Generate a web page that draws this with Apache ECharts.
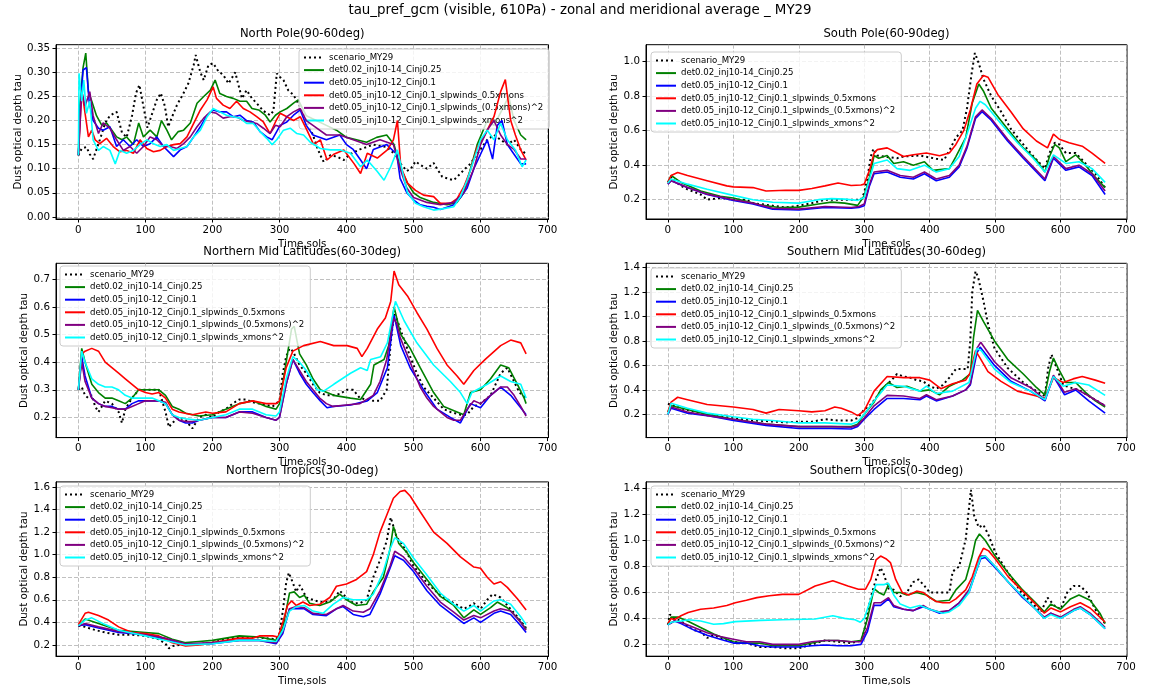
<!DOCTYPE html>
<html><head><meta charset="utf-8">
<script src="https://cdn.jsdelivr.net/npm/echarts@6/dist/echarts.min.js"></script>
<style>html,body{margin:0;padding:0;background:#fff}#c{width:1160px;height:691px}</style>
</head><body><div id="c"></div>
<script>
// ---------- names ----------
const seriesNames = ['scenario_MY29','det0.02_inj10-14_Cinj0.25','det0.05_inj10-12_Cinj0.1',
  'det0.05_inj10-12_Cinj0.1_slpwinds_0.5xmons','det0.05_inj10-12_Cinj0.1_slpwinds_(0.5xmons)^2',
  'det0.05_inj10-12_Cinj0.1_slpwinds_xmons^2'];
const panelTitles = ['North Pole(90-60deg)','South Pole(60-90deg)','Northern Mid Latitudes(60-30deg)',
  'Southern Mid Latitudes(30-60deg)','Northern Tropics(30-0deg)','Southern Tropics(0-30deg)'];
const mainTitle = 'tau_pref_gcm (visible, 610Pa) - zonal and meridional average _ MY29';
const xTicks = [0,100,200,300,400,500,600,700];
const yTicksNP = [0,0.05,0.1,0.15,0.2,0.25,0.3,0.35];
const yTicksSP = [0.2,0.4,0.6,0.8,1.0];
const yTicksNML = [0.2,0.3,0.4,0.5,0.6,0.7];
const yTicksSML = [0.2,0.4,0.6,0.8,1.0,1.2,1.4];
const yTicksNT = [0.2,0.4,0.6,0.8,1.0,1.2,1.4,1.6];
const yTicksST = [0.2,0.4,0.6,0.8,1.0,1.2,1.4];

// ---------- North Pole ----------
const np_scenario = [[0,0.128],[5,0.142],[12,0.145],[17,0.13],[22,0.12],[27,0.14],[32,0.16],[40,0.195],[47,0.21],[57,0.218],[65,0.175],[72,0.165],[80,0.21],[86,0.257],[91,0.274],[97,0.23],[103,0.185],[109,0.21],[117,0.243],[123,0.257],[129,0.23],[134,0.187],[139,0.205],[147,0.232],[157,0.257],[164,0.277],[172,0.315],[175,0.336],[182,0.3],[187,0.284],[194,0.315],[201,0.319],[209,0.302],[216,0.295],[224,0.277],[234,0.3],[244,0.246],[251,0.263],[259,0.246],[266,0.236],[276,0.22],[286,0.211],[291,0.22],[296,0.298],[301,0.29],[306,0.284],[313,0.263],[321,0.253],[331,0.228],[340,0.2],[350,0.17],[356,0.145],[361,0.128],[366,0.114],[376,0.128],[386,0.125],[396,0.118],[405,0.13],[420,0.14],[440,0.15],[460,0.145],[472,0.13],[481,0.11],[490,0.095],[496,0.1],[503,0.115],[510,0.108],[520,0.1],[530,0.112],[535,0.1],[543,0.083],[550,0.08],[560,0.076],[570,0.09],[580,0.104],[585,0.11],[592,0.125],[600,0.14],[610,0.16],[620,0.17],[630,0.16],[640,0.15],[650,0.16],[660,0.14],[668,0.13]];
const np_det002 = [[0,0.128],[2,0.23],[7,0.31],[11,0.34],[15,0.26],[20,0.24],[27,0.21],[35,0.19],[42,0.195],[50,0.18],[57,0.166],[65,0.16],[72,0.166],[82,0.15],[90,0.195],[97,0.166],[107,0.18],[117,0.166],[124,0.2],[132,0.18],[139,0.16],[149,0.177],[157,0.18],[167,0.195],[177,0.236],[187,0.25],[197,0.263],[204,0.284],[211,0.256],[221,0.25],[231,0.246],[241,0.24],[251,0.24],[259,0.225],[269,0.222],[279,0.211],[286,0.197],[294,0.211],[301,0.218],[311,0.225],[321,0.236],[328,0.243],[340,0.21],[355,0.2],[370,0.19],[385,0.18],[400,0.165],[415,0.16],[430,0.155],[445,0.165],[460,0.17],[471,0.15],[481,0.1],[491,0.07],[500,0.05],[510,0.04],[530,0.03],[550,0.025],[565,0.03],[575,0.05],[585,0.1],[595,0.15],[610,0.2],[620,0.19],[635,0.23],[642,0.25],[650,0.2],[660,0.17],[668,0.16]];
const np_det005 = [[0,0.128],[3,0.23],[7,0.305],[12,0.31],[16,0.24],[22,0.2],[30,0.184],[37,0.18],[47,0.187],[57,0.146],[67,0.16],[77,0.146],[87,0.16],[97,0.146],[107,0.152],[117,0.166],[127,0.146],[142,0.125],[152,0.139],[162,0.146],[172,0.166],[182,0.187],[192,0.211],[201,0.222],[211,0.218],[221,0.218],[231,0.208],[241,0.211],[251,0.2],[261,0.197],[271,0.177],[281,0.166],[289,0.16],[301,0.19],[311,0.197],[321,0.211],[331,0.222],[340,0.19],[350,0.17],[370,0.16],[390,0.17],[400,0.15],[410,0.14],[420,0.12],[430,0.1],[440,0.14],[460,0.15],[475,0.13],[480,0.08],[490,0.05],[500,0.035],[510,0.025],[520,0.022],[530,0.02],[540,0.015],[550,0.02],[560,0.025],[570,0.04],[580,0.06],[590,0.1],[600,0.13],[610,0.16],[618,0.12],[625,0.19],[632,0.2],[640,0.15],[650,0.13],[660,0.11],[668,0.11]];
const np_slp05 = [[0,0.128],[5,0.263],[10,0.215],[15,0.166],[20,0.18],[25,0.16],[32,0.152],[42,0.163],[52,0.146],[62,0.135],[72,0.138],[82,0.132],[92,0.16],[102,0.142],[112,0.135],[122,0.138],[132,0.146],[142,0.15],[152,0.152],[162,0.166],[172,0.194],[182,0.222],[192,0.243],[201,0.27],[206,0.246],[216,0.232],[226,0.225],[236,0.24],[246,0.225],[256,0.218],[266,0.208],[276,0.197],[286,0.173],[294,0.197],[301,0.215],[311,0.208],[321,0.2],[331,0.208],[341,0.18],[351,0.15],[361,0.16],[371,0.118],[381,0.13],[396,0.139],[411,0.111],[421,0.09],[431,0.132],[446,0.122],[461,0.139],[470,0.16],[476,0.2],[481,0.104],[491,0.07],[503,0.055],[515,0.045],[530,0.042],[540,0.028],[555,0.028],[565,0.038],[575,0.062],[585,0.097],[595,0.145],[605,0.166],[620,0.208],[630,0.26],[637,0.285],[645,0.2],[652,0.17],[660,0.139],[668,0.118]];
const np_slp05sq = [[0,0.128],[5,0.26],[10,0.23],[17,0.26],[22,0.21],[30,0.173],[37,0.195],[47,0.184],[57,0.16],[67,0.138],[77,0.146],[87,0.132],[97,0.146],[107,0.166],[117,0.16],[127,0.146],[137,0.146],[147,0.142],[157,0.152],[167,0.166],[177,0.187],[187,0.205],[197,0.218],[206,0.215],[216,0.205],[226,0.208],[236,0.208],[246,0.2],[256,0.197],[266,0.194],[276,0.184],[286,0.173],[294,0.19],[301,0.187],[311,0.208],[321,0.218],[331,0.225],[340,0.2],[350,0.19],[370,0.17],[390,0.17],[410,0.16],[430,0.15],[450,0.16],[470,0.15],[480,0.1],[490,0.06],[500,0.04],[520,0.03],[540,0.025],[560,0.03],[575,0.05],[590,0.1],[600,0.15],[610,0.18],[620,0.2],[630,0.17],[640,0.15],[650,0.14],[660,0.12],[668,0.12]];
const np_slpsq = [[0,0.128],[1,0.298],[5,0.24],[8,0.284],[12,0.215],[17,0.24],[22,0.16],[30,0.138],[37,0.146],[47,0.138],[55,0.11],[62,0.138],[72,0.132],[82,0.138],[92,0.15],[102,0.16],[112,0.152],[122,0.146],[132,0.15],[142,0.138],[152,0.142],[162,0.146],[172,0.166],[182,0.18],[192,0.208],[201,0.225],[211,0.218],[221,0.211],[231,0.208],[241,0.205],[251,0.194],[261,0.194],[271,0.177],[281,0.163],[289,0.15],[296,0.16],[306,0.18],[316,0.184],[326,0.173],[336,0.17],[346,0.155],[361,0.142],[376,0.139],[391,0.139],[406,0.132],[421,0.104],[431,0.118],[446,0.094],[456,0.076],[466,0.104],[476,0.139],[483,0.097],[491,0.05],[503,0.028],[515,0.021],[530,0.014],[545,0.017],[560,0.021],[570,0.042],[580,0.076],[590,0.118],[600,0.16],[610,0.18],[620,0.16],[630,0.194],[640,0.16],[652,0.139],[662,0.104],[668,0.118]];

// ---------- South Pole ----------
const sp_scenario = [[0,0.3],[5,0.33],[10,0.31],[20,0.28],[30,0.26],[50,0.23],[60,0.2],[80,0.21],[100,0.2],[120,0.2],[130,0.18],[150,0.17],[170,0.16],[180,0.155],[200,0.165],[220,0.18],[240,0.2],[260,0.2],[280,0.2],[295,0.2],[300,0.24],[305,0.33],[310,0.45],[314,0.495],[320,0.456],[335,0.447],[350,0.44],[360,0.45],[385,0.456],[410,0.437],[422,0.43],[432,0.5],[440,0.56],[450,0.6],[457,0.73],[464,0.93],[469,1.05],[475,0.99],[482,0.9],[494,0.8],[509,0.71],[524,0.61],[543,0.52],[561,0.44],[576,0.38],[583,0.47],[591,0.53],[598,0.52],[608,0.47],[623,0.47],[638,0.41],[653,0.35],[668,0.27]];
const sp_det002 = [[0,0.3],[5,0.34],[20,0.3],[50,0.25],[80,0.22],[100,0.21],[120,0.19],[140,0.17],[170,0.155],[200,0.157],[230,0.175],[250,0.186],[270,0.18],[290,0.167],[300,0.223],[308,0.33],[315,0.456],[322,0.44],[335,0.456],[345,0.41],[360,0.42],[375,0.4],[392,0.42],[405,0.37],[430,0.38],[440,0.45],[455,0.56],[465,0.76],[475,0.87],[482,0.83],[494,0.73],[519,0.61],[543,0.5],[563,0.43],[576,0.36],[583,0.45],[591,0.52],[598,0.5],[608,0.42],[623,0.46],[638,0.4],[653,0.33],[668,0.27]];
const sp_det005 = [[0,0.29],[5,0.31],[30,0.27],[60,0.23],[100,0.195],[130,0.175],[160,0.145],[200,0.14],[240,0.155],[280,0.15],[292,0.155],[300,0.165],[308,0.28],[315,0.35],[335,0.36],[355,0.33],[375,0.32],[392,0.35],[410,0.31],[430,0.33],[445,0.39],[457,0.5],[470,0.67],[480,0.71],[494,0.66],[519,0.54],[543,0.44],[576,0.31],[589,0.44],[608,0.37],[628,0.39],[648,0.34],[668,0.23]];
const sp_slp05 = [[0,0.3],[5,0.34],[15,0.357],[30,0.34],[60,0.31],[90,0.28],[100,0.274],[130,0.27],[150,0.25],[180,0.255],[200,0.254],[220,0.265],[240,0.28],[260,0.297],[280,0.282],[295,0.285],[300,0.29],[308,0.37],[315,0.47],[320,0.49],[335,0.5],[350,0.47],[360,0.45],[375,0.46],[395,0.47],[415,0.455],[430,0.47],[440,0.52],[452,0.6],[462,0.72],[472,0.87],[482,0.92],[489,0.91],[504,0.81],[524,0.71],[543,0.61],[563,0.54],[580,0.5],[589,0.58],[598,0.55],[613,0.53],[633,0.51],[648,0.47],[668,0.41]];
const sp_slp05sq = [[0,0.29],[5,0.31],[30,0.27],[60,0.232],[100,0.2],[130,0.18],[160,0.15],[200,0.145],[240,0.16],[280,0.155],[292,0.16],[300,0.175],[308,0.29],[315,0.36],[335,0.37],[355,0.34],[375,0.33],[392,0.36],[410,0.32],[430,0.34],[445,0.4],[457,0.51],[470,0.68],[480,0.72],[494,0.67],[519,0.55],[543,0.45],[576,0.32],[589,0.45],[608,0.38],[628,0.4],[648,0.35],[668,0.25]];
const sp_slpsq = [[0,0.297],[5,0.32],[30,0.29],[60,0.26],[100,0.225],[130,0.2],[160,0.185],[200,0.18],[230,0.2],[250,0.206],[270,0.203],[290,0.196],[300,0.213],[308,0.32],[315,0.41],[335,0.43],[350,0.38],[370,0.37],[392,0.4],[410,0.36],[430,0.38],[445,0.45],[457,0.58],[470,0.73],[477,0.77],[485,0.75],[509,0.64],[534,0.53],[558,0.44],[576,0.36],[589,0.46],[608,0.41],[628,0.42],[648,0.38],[668,0.3]];

// ---------- Northern Mid Latitudes ----------
const nml_scenario = [[0,0.3],[5,0.31],[10,0.28],[15,0.27],[20,0.28],[25,0.24],[30,0.22],[40,0.26],[50,0.25],[60,0.22],[65,0.18],[70,0.23],[80,0.27],[90,0.3],[100,0.3],[110,0.3],[120,0.3],[130,0.22],[135,0.165],[140,0.18],[150,0.2],[160,0.19],[170,0.16],[180,0.2],[190,0.21],[200,0.2],[210,0.22],[220,0.23],[230,0.25],[240,0.265],[250,0.265],[260,0.255],[270,0.25],[280,0.245],[290,0.24],[300,0.26],[305,0.36],[310,0.42],[315,0.45],[320,0.44],[330,0.39],[340,0.36],[350,0.32],[360,0.29],[370,0.28],[380,0.28],[390,0.285],[400,0.3],[410,0.3],[420,0.27],[430,0.265],[440,0.26],[450,0.26],[460,0.3],[466,0.47],[471,0.58],[476,0.55],[486,0.48],[495,0.42],[505,0.36],[515,0.31],[530,0.27],[545,0.23],[555,0.22],[570,0.21],[580,0.21],[590,0.24],[600,0.25],[615,0.28],[630,0.36],[640,0.38],[650,0.33],[658,0.29],[668,0.27]];
const nml_det002 = [[0,0.3],[5,0.45],[10,0.4],[20,0.32],[30,0.29],[40,0.27],[50,0.27],[60,0.26],[70,0.25],[80,0.27],[90,0.3],[100,0.3],[110,0.3],[120,0.3],[130,0.28],[140,0.24],[150,0.23],[160,0.215],[180,0.205],[200,0.21],[220,0.23],[240,0.25],[260,0.26],[280,0.24],[295,0.23],[300,0.25],[310,0.4],[318,0.52],[322,0.53],[330,0.43],[340,0.39],[350,0.34],[361,0.3],[381,0.28],[406,0.27],[421,0.265],[436,0.32],[441,0.39],[456,0.41],[463,0.46],[471,0.6],[481,0.5],[495,0.45],[510,0.38],[530,0.29],[545,0.24],[565,0.22],[575,0.21],[585,0.29],[600,0.3],[615,0.34],[630,0.39],[642,0.38],[655,0.32],[665,0.27],[668,0.25]];
const nml_det005 = [[0,0.3],[5,0.42],[10,0.35],[20,0.27],[30,0.25],[40,0.24],[50,0.24],[60,0.23],[70,0.23],[80,0.25],[90,0.26],[100,0.26],[120,0.26],[130,0.25],[140,0.21],[150,0.19],[160,0.18],[170,0.18],[180,0.19],[200,0.2],[220,0.2],[240,0.22],[260,0.22],[280,0.2],[295,0.19],[300,0.2],[310,0.32],[320,0.41],[330,0.36],[340,0.32],[350,0.29],[361,0.26],[371,0.235],[381,0.24],[406,0.245],[431,0.26],[446,0.29],[461,0.38],[471,0.57],[481,0.46],[495,0.38],[515,0.3],[535,0.23],[555,0.2],[570,0.18],[585,0.25],[600,0.235],[615,0.28],[630,0.31],[645,0.28],[660,0.235],[668,0.21]];
const nml_slp05 = [[0,0.3],[5,0.43],[10,0.44],[20,0.45],[30,0.44],[40,0.4],[50,0.38],[60,0.36],[70,0.34],[80,0.32],[90,0.3],[100,0.29],[110,0.285],[120,0.29],[130,0.27],[140,0.23],[150,0.22],[170,0.21],[190,0.22],[200,0.215],[220,0.22],[240,0.25],[260,0.26],[280,0.25],[295,0.25],[300,0.26],[310,0.38],[320,0.44],[336,0.46],[361,0.475],[381,0.46],[401,0.46],[416,0.45],[423,0.42],[431,0.45],[446,0.52],[458,0.56],[466,0.62],[471,0.73],[478,0.68],[491,0.64],[505,0.58],[520,0.52],[535,0.45],[550,0.39],[565,0.35],[575,0.32],[590,0.37],[607,0.41],[630,0.46],[645,0.48],[660,0.47],[668,0.43]];
const nml_slp05sq = [[0,0.3],[5,0.4],[10,0.33],[20,0.27],[30,0.25],[40,0.24],[50,0.235],[60,0.23],[70,0.23],[80,0.24],[90,0.25],[100,0.26],[120,0.26],[130,0.255],[140,0.21],[150,0.19],[160,0.185],[170,0.185],[180,0.19],[200,0.2],[220,0.2],[240,0.22],[260,0.215],[280,0.2],[295,0.19],[300,0.2],[310,0.32],[320,0.41],[330,0.37],[340,0.33],[350,0.3],[360,0.27],[370,0.25],[380,0.24],[400,0.245],[420,0.25],[440,0.28],[450,0.33],[460,0.41],[470,0.56],[475,0.54],[480,0.49],[490,0.43],[500,0.37],[510,0.31],[520,0.27],[530,0.24],[540,0.22],[550,0.2],[560,0.19],[570,0.19],[580,0.23],[590,0.26],[600,0.25],[610,0.27],[620,0.29],[630,0.31],[640,0.31],[650,0.28],[660,0.24],[668,0.205]];
const nml_slpsq = [[0,0.3],[5,0.44],[10,0.4],[20,0.34],[30,0.32],[40,0.31],[50,0.31],[60,0.3],[70,0.28],[80,0.27],[90,0.27],[100,0.27],[110,0.27],[120,0.26],[130,0.25],[140,0.21],[150,0.2],[160,0.195],[180,0.19],[200,0.2],[220,0.21],[240,0.23],[260,0.23],[280,0.21],[295,0.205],[300,0.22],[310,0.34],[320,0.42],[330,0.4],[340,0.37],[350,0.33],[356,0.3],[366,0.295],[381,0.32],[406,0.36],[421,0.38],[431,0.37],[436,0.41],[451,0.42],[461,0.47],[473,0.62],[486,0.55],[505,0.47],[530,0.39],[555,0.33],[570,0.29],[580,0.25],[587,0.29],[610,0.32],[630,0.35],[645,0.33],[660,0.32],[668,0.27]];

// ---------- Southern Mid Latitudes ----------
const sml_scenario = [[0,0.285],[5,0.28],[20,0.25],[50,0.21],[80,0.19],[100,0.17],[130,0.15],[150,0.145],[180,0.135],[200,0.14],[220,0.14],[240,0.16],[260,0.15],[280,0.15],[290,0.17],[300,0.24],[310,0.28],[320,0.35],[330,0.42],[340,0.47],[350,0.53],[360,0.51],[370,0.5],[380,0.48],[390,0.47],[400,0.43],[410,0.41],[420,0.44],[430,0.5],[440,0.57],[450,0.57],[458,0.57],[462,0.8],[465,1.2],[470,1.37],[474,1.32],[482,1.13],[489,0.94],[499,0.74],[519,0.58],[543,0.46],[563,0.39],[576,0.35],[581,0.58],[586,0.69],[594,0.58],[604,0.44],[614,0.42],[628,0.4],[643,0.35],[668,0.27]];
const sml_det002 = [[0,0.22],[5,0.27],[30,0.24],[60,0.2],[100,0.16],[150,0.12],[200,0.1],[250,0.1],[280,0.1],[290,0.12],[300,0.2],[315,0.3],[325,0.4],[337,0.46],[350,0.42],[365,0.43],[385,0.39],[400,0.4],[415,0.36],[430,0.43],[450,0.48],[462,0.53],[467,0.83],[473,1.05],[482,0.96],[499,0.8],[519,0.65],[543,0.53],[563,0.42],[576,0.36],[583,0.55],[589,0.66],[596,0.58],[608,0.46],[623,0.46],[638,0.38],[653,0.31],[668,0.26]];
const sml_det005 = [[0,0.2],[5,0.25],[30,0.21],[60,0.19],[100,0.15],[150,0.11],[200,0.085],[250,0.085],[280,0.08],[290,0.1],[300,0.16],[315,0.24],[335,0.33],[360,0.33],[385,0.32],[395,0.35],[410,0.31],[435,0.35],[455,0.4],[462,0.44],[472,0.7],[477,0.75],[499,0.6],[524,0.47],[554,0.39],[576,0.31],[589,0.51],[606,0.36],[623,0.4],[643,0.31],[668,0.21]];
const sml_slp05 = [[0,0.22],[5,0.3],[15,0.34],[30,0.32],[60,0.28],[100,0.26],[130,0.24],[150,0.21],[170,0.24],[200,0.23],[220,0.22],[240,0.23],[255,0.26],[265,0.25],[280,0.22],[290,0.19],[300,0.23],[315,0.39],[335,0.51],[360,0.5],[385,0.5],[400,0.48],[417,0.41],[435,0.45],[455,0.48],[462,0.54],[470,0.72],[477,0.66],[489,0.55],[509,0.47],[534,0.39],[563,0.35],[576,0.33],[589,0.5],[604,0.46],[619,0.49],[633,0.51],[653,0.48],[668,0.455]];
const sml_slp05sq = [[0,0.2],[5,0.26],[30,0.22],[60,0.19],[100,0.16],[150,0.12],[200,0.1],[250,0.1],[280,0.095],[290,0.11],[300,0.17],[315,0.27],[335,0.355],[360,0.35],[385,0.33],[395,0.36],[410,0.32],[435,0.35],[455,0.4],[462,0.45],[472,0.74],[478,0.79],[499,0.63],[524,0.5],[554,0.42],[576,0.32],[589,0.52],[606,0.38],[623,0.41],[643,0.35],[668,0.27]];
const sml_slpsq = [[0,0.2],[5,0.29],[30,0.25],[60,0.21],[100,0.18],[130,0.16],[160,0.15],[200,0.13],[240,0.13],[280,0.12],[290,0.14],[300,0.2],[315,0.31],[335,0.44],[360,0.43],[385,0.39],[395,0.43],[410,0.37],[435,0.39],[460,0.46],[472,0.74],[479,0.72],[499,0.57],[524,0.46],[554,0.39],[576,0.32],[589,0.51],[604,0.43],[623,0.46],[643,0.44],[668,0.355]];

// ---------- Northern Tropics ----------
const nt_scenario = [[0,0.37],[10,0.36],[20,0.34],[40,0.31],[60,0.29],[80,0.29],[100,0.28],[120,0.25],[130,0.21],[135,0.17],[140,0.19],[150,0.2],[170,0.2],[200,0.22],[220,0.25],[240,0.27],[260,0.27],[280,0.26],[295,0.25],[300,0.3],[305,0.5],[310,0.75],[314,0.84],[320,0.75],[325,0.67],[330,0.73],[335,0.68],[340,0.62],[350,0.6],[360,0.58],[370,0.58],[380,0.6],[390,0.68],[400,0.62],[410,0.57],[420,0.57],[430,0.6],[440,0.8],[450,0.95],[460,1.12],[466,1.33],[470,1.25],[475,1.15],[480,1.12],[490,1.02],[500,0.9],[520,0.75],[540,0.64],[560,0.57],[575,0.52],[585,0.55],[590,0.57],[600,0.52],[610,0.6],[618,0.65],[630,0.62],[640,0.55],[655,0.45],[668,0.35]];
const nt_det002 = [[0,0.37],[10,0.43],[30,0.39],[60,0.33],[100,0.31],[120,0.3],[140,0.25],[160,0.22],[180,0.23],[200,0.24],[220,0.26],[240,0.28],[270,0.27],[295,0.24],[305,0.35],[315,0.66],[322,0.67],[330,0.62],[337,0.64],[345,0.57],[360,0.55],[375,0.58],[390,0.65],[400,0.6],[415,0.55],[430,0.56],[440,0.67],[455,0.8],[465,1.05],[470,1.25],[478,1.1],[490,1.02],[500,0.93],[520,0.78],[540,0.63],[560,0.55],[575,0.44],[590,0.51],[600,0.47],[615,0.53],[625,0.58],[640,0.53],[655,0.44],[668,0.34]];
const nt_det005 = [[0,0.37],[10,0.38],[30,0.35],[60,0.31],[100,0.29],[130,0.25],[160,0.2],[200,0.21],[240,0.24],[270,0.24],[295,0.21],[305,0.3],[315,0.52],[325,0.52],[337,0.52],[350,0.47],[370,0.46],[385,0.52],[395,0.54],[410,0.47],[425,0.45],[435,0.47],[450,0.65],[465,0.88],[472,0.99],[485,0.95],[500,0.85],[520,0.68],[540,0.55],[560,0.46],[575,0.39],[590,0.44],[600,0.4],[620,0.48],[630,0.5],[645,0.47],[660,0.37],[668,0.31]];
const nt_slp05 = [[0,0.38],[10,0.48],[15,0.49],[30,0.46],[45,0.42],[60,0.36],[80,0.31],[100,0.3],[120,0.28],[140,0.22],[160,0.19],[180,0.2],[200,0.22],[240,0.26],[260,0.26],[270,0.28],[290,0.28],[298,0.27],[305,0.4],[312,0.55],[318,0.59],[325,0.55],[335,0.58],[345,0.55],[360,0.56],[375,0.62],[385,0.72],[400,0.74],[415,0.78],[430,0.85],[440,1.0],[450,1.2],[460,1.35],[470,1.5],[480,1.56],[487,1.57],[495,1.52],[510,1.38],[530,1.2],[550,1.1],[570,0.98],[590,0.89],[600,0.88],[610,0.8],[620,0.74],[630,0.76],[640,0.71],[655,0.61],[668,0.51]];
const nt_slp05sq = [[0,0.37],[10,0.39],[30,0.36],[60,0.32],[100,0.29],[130,0.26],[160,0.21],[200,0.22],[240,0.24],[270,0.24],[295,0.22],[305,0.32],[315,0.52],[325,0.54],[337,0.53],[350,0.48],[370,0.47],[385,0.52],[395,0.55],[410,0.5],[425,0.49],[435,0.52],[450,0.68],[465,0.9],[472,1.03],[485,0.98],[500,0.88],[520,0.72],[540,0.58],[560,0.49],[575,0.42],[590,0.46],[600,0.44],[620,0.5],[630,0.52],[645,0.5],[660,0.4],[668,0.33]];
const nt_slpsq = [[0,0.37],[10,0.42],[20,0.44],[40,0.38],[60,0.33],[100,0.28],[130,0.24],[160,0.2],[200,0.21],[240,0.24],[270,0.24],[295,0.23],[305,0.33],[315,0.5],[325,0.54],[337,0.55],[350,0.5],[365,0.48],[380,0.56],[395,0.62],[410,0.6],[430,0.6],[440,0.65],[455,0.85],[465,1.05],[472,1.15],[485,1.1],[500,0.97],[520,0.82],[540,0.66],[560,0.56],[575,0.5],[590,0.55],[600,0.5],[620,0.59],[630,0.6],[645,0.56],[660,0.45],[668,0.38]];

// ---------- Southern Tropics ----------
const st_scenario = [[0,0.35],[3,0.43],[10,0.4],[20,0.38],[30,0.34],[40,0.31],[50,0.3],[60,0.25],[70,0.27],[80,0.25],[100,0.22],[120,0.21],[140,0.18],[160,0.18],[180,0.17],[200,0.17],[220,0.2],[240,0.23],[260,0.22],[280,0.21],[295,0.23],[300,0.3],[305,0.45],[312,0.6],[318,0.7],[325,0.79],[330,0.74],[337,0.63],[345,0.62],[355,0.57],[365,0.6],[375,0.68],[383,0.7],[392,0.65],[400,0.6],[410,0.6],[420,0.6],[430,0.6],[435,0.76],[445,0.8],[455,1.01],[463,1.39],[468,1.19],[475,1.1],[482,1.12],[490,1.04],[500,0.91],[520,0.75],[540,0.6],[560,0.5],[570,0.45],[580,0.56],[590,0.5],[600,0.47],[610,0.6],[620,0.65],[630,0.65],[640,0.6],[655,0.45],[668,0.36]];
const st_det002 = [[0,0.35],[5,0.41],[15,0.41],[30,0.38],[50,0.33],[70,0.28],[100,0.22],[120,0.21],[140,0.21],[160,0.19],[180,0.19],[200,0.19],[220,0.21],[240,0.23],[260,0.23],[280,0.22],[295,0.23],[305,0.4],[315,0.63],[322,0.6],[330,0.58],[337,0.66],[345,0.6],[355,0.6],[365,0.58],[380,0.6],[395,0.58],[410,0.53],[430,0.54],[440,0.62],[455,0.7],[465,0.88],[470,1.0],[476,1.05],[485,1.0],[500,0.88],[520,0.75],[540,0.63],[560,0.53],[575,0.45],[585,0.51],[600,0.47],[615,0.55],[628,0.58],[645,0.54],[660,0.44],[668,0.36]];
const st_det005 = [[0,0.35],[10,0.38],[20,0.36],[40,0.31],[60,0.27],[80,0.24],[100,0.21],[120,0.21],[140,0.19],[160,0.18],[180,0.18],[200,0.18],[220,0.19],[240,0.195],[260,0.19],[280,0.19],[295,0.2],[305,0.3],[315,0.5],[325,0.5],[337,0.55],[345,0.49],[360,0.47],[375,0.46],[390,0.49],[400,0.47],[415,0.44],[430,0.46],[445,0.52],[460,0.6],[470,0.75],[478,0.86],[485,0.87],[500,0.79],[520,0.68],[540,0.57],[560,0.48],[575,0.4],[585,0.44],[600,0.4],[620,0.46],[630,0.48],[645,0.43],[660,0.36],[668,0.32]];
const st_slp05 = [[0,0.36],[5,0.4],[10,0.39],[20,0.42],[31,0.445],[50,0.47],[70,0.48],[90,0.5],[103,0.52],[120,0.54],[136,0.56],[155,0.575],[175,0.585],[200,0.585],[225,0.65],[252,0.69],[275,0.65],[291,0.625],[302,0.625],[310,0.7],[318,0.85],[325,0.88],[333,0.86],[340,0.83],[348,0.7],[358,0.6],[368,0.58],[380,0.61],[390,0.6],[400,0.56],[410,0.53],[420,0.52],[430,0.52],[440,0.55],[455,0.62],[465,0.72],[475,0.87],[482,0.94],[490,0.92],[500,0.86],[520,0.72],[540,0.62],[560,0.52],[575,0.44],[585,0.48],[600,0.45],[615,0.49],[630,0.52],[645,0.48],[660,0.41],[668,0.37]];
const st_slp05sq = [[0,0.35],[10,0.38],[20,0.37],[40,0.33],[60,0.29],[80,0.26],[100,0.24],[120,0.22],[140,0.22],[160,0.2],[180,0.2],[200,0.2],[220,0.22],[240,0.23],[260,0.23],[280,0.22],[295,0.22],[305,0.33],[315,0.52],[325,0.52],[337,0.56],[345,0.5],[360,0.47],[375,0.46],[390,0.5],[400,0.47],[415,0.45],[430,0.46],[445,0.52],[460,0.62],[470,0.75],[478,0.88],[485,0.88],[500,0.8],[520,0.68],[540,0.58],[560,0.48],[575,0.41],[585,0.44],[600,0.41],[620,0.47],[630,0.49],[645,0.44],[660,0.37],[668,0.33]];
const st_slpsq = [[0,0.35],[5,0.37],[20,0.38],[31,0.39],[50,0.38],[70,0.355],[85,0.36],[103,0.375],[142,0.385],[175,0.39],[225,0.395],[252,0.42],[270,0.4],[286,0.39],[294,0.37],[300,0.4],[310,0.55],[318,0.66],[330,0.66],[337,0.67],[345,0.58],[355,0.51],[370,0.48],[385,0.5],[400,0.47],[420,0.44],[430,0.45],[445,0.5],[460,0.6],[470,0.75],[478,0.87],[485,0.88],[500,0.8],[520,0.68],[540,0.58],[560,0.48],[575,0.4],[585,0.43],[600,0.4],[620,0.46],[630,0.48],[645,0.43],[660,0.36],[668,0.32]];

// ---------- layout / styles ----------
const FONT = 'DejaVu Sans';
const colors = ['#000000','#008000','#0000ff','#ff0000','#800080','#00ffff'];
const LCOL = {left:56, width:492.5};
const RCOL = {left:646, width:481};
const ROWS = [{top:44.7,height:174.3},{top:263.3,height:174.3},{top:481.9,height:174.3}];

const panels = [
  {col:LCOL,row:0,yr:[-0.0045,0.3575],step:0.05,dec:2,split:7,ticks:yTicksNP,leg:[299,49],
   data:[np_scenario,np_det002,np_det005,np_slp05,np_slp05sq,np_slpsq]},
  {col:RCOL,row:0,yr:[0.088,1.098],step:0.2,dec:1,split:5,ticks:yTicksSP,leg:[651,52],
   data:[sp_scenario,sp_det002,sp_det005,sp_slp05,sp_slp05sq,sp_slpsq]},
  {col:LCOL,row:1,yr:[0.127,0.758],step:0.1,dec:1,split:6,ticks:yTicksNML,leg:[60,266],
   data:[nml_scenario,nml_det002,nml_det005,nml_slp05,nml_slp05sq,nml_slpsq]},
  {col:RCOL,row:1,yr:[0.01,1.435],step:0.2,dec:1,split:7,ticks:yTicksSML,leg:[651,268],
   data:[sml_scenario,sml_det002,sml_det005,sml_slp05,sml_slp05sq,sml_slpsq]},
  {col:LCOL,row:2,yr:[0.1,1.645],step:0.2,dec:1,split:8,ticks:yTicksNT,leg:[60,486],
   data:[nt_scenario,nt_det002,nt_det005,nt_slp05,nt_slp05sq,nt_slpsq]},
  {col:RCOL,row:2,yr:[0.109,1.451],step:0.2,dec:1,split:7,ticks:yTicksST,leg:[651,486],
   data:[st_scenario,st_det002,st_det005,st_slp05,st_slp05sq,st_slpsq]}
];

const grids=[], xAxes=[], yAxes=[], series=[], legends=[], graphics=[];
graphics.push({type:'text', x:580, y:11, style:{text:mainTitle, font:'13.4px "DejaVu Sans"', fill:'#000', textAlign:'center', textVerticalAlign:'middle'}});

panels.forEach((p,i)=>{
  const g = {left:p.col.left, width:p.col.width, top:ROWS[p.row].top, height:ROWS[p.row].height,
             show:true, borderColor:'#000', borderWidth:1, backgroundColor:'transparent', containLabel:false};
  grids.push(g);
  graphics.push({type:'text', x:g.left+g.width/2, y:g.top-11, style:{text:panelTitles[i], font:'11.6px "DejaVu Sans"', fill:'#000', textAlign:'center', textVerticalAlign:'middle'}});
  xAxes.push({type:'value', gridIndex:i, min:-33.4, max:701.4, splitNumber:7, minInterval:100, maxInterval:100,
    name:'Time,sols', nameLocation:'middle', nameGap:20,
    nameTextStyle:{fontFamily:FONT, fontSize:10.3, color:'#000'},
    axisLine:{show:true, onZero:false, lineStyle:{color:'#000', width:1}},
    axisTick:{show:true, length:3.5, customValues:xTicks, lineStyle:{color:'#000'}},
    axisLabel:{fontFamily:FONT, fontSize:10.3, color:'#000', margin:6, customValues:xTicks,
      formatter:v=>{const k=Math.round(v/100); return (Math.abs(v-k*100)<1e-6 && xTicks.indexOf(k*100)>=0)?String(k*100):'';}},
    splitLine:{show:true, lineStyle:{color:'#b0b0b0', width:0.8, type:[4,2]}}});
  yAxes.push({type:'value', gridIndex:i, min:p.yr[0], max:p.yr[1], splitNumber:p.split, minInterval:p.step, maxInterval:p.step,
    name:'Dust optical depth tau', nameLocation:'middle', nameGap:22,
    nameTextStyle:{fontFamily:FONT, fontSize:10.3, color:'#000'},
    axisLine:{show:true, onZero:false, lineStyle:{color:'#000', width:1}},
    axisTick:{show:true, length:3.5, customValues:p.ticks, lineStyle:{color:'#000'}},
    axisLabel:{fontFamily:FONT, fontSize:10.3, color:'#000', margin:6, customValues:p.ticks,
      formatter:(v)=>{const k=Math.round(v/p.step); return Math.abs(v-k*p.step)<1e-6 ? (k*p.step).toFixed(p.dec) : '';}},
    splitLine:{show:true, lineStyle:{color:'#b0b0b0', width:0.8, type:[4,2]}}});
  p.data.forEach((d,j)=>{
    series.push({type:'line', name:seriesNames[j], xAxisIndex:i, yAxisIndex:i, data:d,
      symbol:'none', showSymbol:false, silent:true, animation:false, clip:true, z:2+j,
      itemStyle:{color:colors[j]},
      lineStyle:{color:colors[j], width:j===0?2:1.6, type:j===0?[2,3]:'solid'}});
  });
  legends.push({orient:'vertical', left:p.leg[0], top:p.leg[1], data:seriesNames,
    itemWidth:20, itemHeight:10, itemGap:3.6, padding:[4,6,4,4],
    backgroundColor:'rgba(255,255,255,0.8)', borderColor:'#cccccc', borderWidth:1, borderRadius:3,
    selectedMode:false,
    itemStyle:{opacity:0, borderWidth:0},
    textStyle:{fontFamily:FONT, fontSize:8.6, color:'#000'}});
});

const chart = echarts.init(document.getElementById('c'), null, {renderer:'canvas'});
chart.setOption({animation:false, backgroundColor:'#fff', grid:grids, xAxis:xAxes, yAxis:yAxes,
  series:series, legend:legends, graphic:graphics});
</script></body></html>
